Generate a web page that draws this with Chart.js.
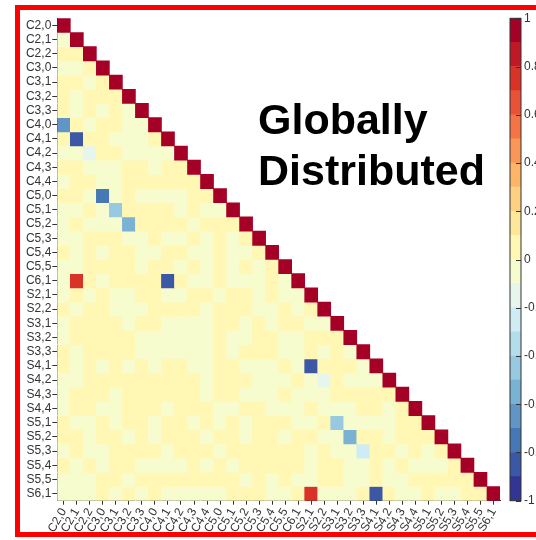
<!DOCTYPE html>
<html lang="en">
<head>
<meta charset="UTF-8" />
<title>Globally Distributed - Correlation Matrix</title>
<style>
  * {margin:0; padding:0; box-sizing:border-box;}
  html, body {width:536px; height:540px; overflow:hidden; background:#fff;}
  body {position:relative; font-family:'Liberation Sans', Arial, sans-serif;}
  .frame {position:absolute; left:15px; top:5px; width:560px; height:532px; border:5px solid #ff0000;}
  #matrixWrap {position:absolute; left:0; top:0; width:536px; height:540px;}
  #barWrap {position:absolute; left:480px; top:0; width:90px; height:540px;}
  .note {
    position:absolute; left:258px; top:94px;
    font: bold 43px 'Liberation Sans', Arial, sans-serif;
    line-height:51px; color:#000;
  }
</style>
</head>
<body>

<div class="frame"></div>
<div id="matrixWrap"><canvas id="matrixChart"></canvas></div>
<div id="barWrap"><canvas id="barChart"></canvas></div>
<div class="note">Globally<br>Distributed</div>

<script src="https://cdn.jsdelivr.net/npm/chart.js"></script>
<script>
  // parameter names (rows and columns share the same list)
  const names = ['C2,0','C2,1','C2,2','C3,0','C3,1','C3,2','C3,3','C4,0','C4,1','C4,2','C4,3','C4,4',
    'C5,0','C5,1','C5,2','C5,3','C5,4','C5,5','C6,1','S2,1','S2,2','S3,1','S3,2','S3,3',
    'S4,1','S4,2','S4,3','S4,4','S5,1','S5,2','S5,3','S5,4','S5,5','S6,1'];

  // lower triangle of the correlation matrix, row r holds columns 0..r
  const corrRows = [
    [1],
    [-0.03, 1],
    [0.05, 0.04, 1],
    [-0.02, -0.03, 0.05, 1],
    [0.04, 0.05, -0.02, 0.03, 1],
    [0.05, -0.03, 0.04, 0.06, 0.03, 1],
    [0.04, -0.02, 0.05, -0.03, 0.04, -0.02, 1],
    [-0.65, 0.05, -0.03, 0.04, 0.05, -0.02, -0.04, 1],
    [0.04, -0.85, 0.05, 0.03, -0.02, -0.03, -0.04, 0.05, 1],
    [-0.03, -0.02, -0.15, 0.04, 0.05, -0.03, -0.02, -0.04, -0.03, 1],
    [0.05, 0.04, -0.03, -0.02, -0.04, 0.05, 0.03, -0.02, 0.04, 0.05, 1],
    [-0.02, 0.04, 0.05, -0.03, -0.02, 0.05, 0.04, 0.03, 0.05, 0.04, 0.06, 1],
    [0.04, 0.05, -0.03, -0.75, -0.02, 0.04, -0.03, -0.02, -0.04, -0.03, 0.05, 0.04, 1],
    [-0.03, -0.02, 0.05, -0.04, -0.45, 0.04, 0.05, 0.03, 0.04, -0.02, 0.05, -0.03, -0.02, 1],
    [-0.02, 0.04, -0.03, -0.02, -0.04, -0.55, 0.05, 0.04, 0.03, 0.05, -0.02, 0.04, 0.05, 0.03, 1],
    [-0.03, -0.02, 0.05, 0.04, 0.03, -0.02, -0.04, 0.05, -0.03, -0.02, 0.04, -0.03, 0.05, -0.02, 0.04, 1],
    [0.05, -0.03, 0.04, -0.02, 0.05, 0.03, -0.04, -0.02, 0.05, 0.04, -0.03, -0.02, 0.04, -0.03, -0.02, 0.05, 1],
    [-0.02, -0.03, 0.05, 0.04, 0.03, 0.05, -0.02, 0.04, 0.05, -0.03, 0.04, -0.02, 0.05, -0.03, 0.04, -0.02, 0.05, 1],
    [-0.03, 0.75, 0.04, -0.02, 0.05, 0.03, 0.04, 0.05, -0.85, 0.04, -0.03, -0.02, 0.05, -0.03, -0.02, -0.04, 0.05, -0.02, 1],
    [-0.02, 0.05, -0.03, 0.04, -0.02, -0.03, 0.05, 0.04, -0.02, -0.03, 0.05, 0.04, -0.02, 0.05, 0.03, -0.03, 0.04, -0.02, -0.03, 1],
    [0.04, -0.03, 0.05, 0.04, -0.02, -0.03, -0.02, 0.05, 0.04, 0.03, 0.05, -0.02, 0.04, 0.05, 0.03, -0.03, -0.02, 0.04, -0.03, 0.05, 1],
    [-0.03, 0.05, 0.04, 0.03, 0.05, -0.02, 0.04, 0.05, -0.03, -0.02, -0.04, -0.03, 0.05, 0.04, -0.02, 0.05, -0.03, 0.04, 0.05, -0.02, -0.03, 1],
    [-0.02, 0.04, 0.05, 0.03, 0.04, 0.05, -0.03, -0.02, -0.04, -0.03, -0.02, -0.03, 0.05, -0.02, -0.03, 0.04, 0.05, -0.02, -0.03, 0.04, 0.05, 0.03, 1],
    [0.05, -0.03, 0.04, 0.05, 0.03, 0.04, -0.02, -0.03, -0.04, -0.02, -0.03, -0.02, 0.05, -0.03, 0.04, 0.05, 0.03, -0.02, -0.03, 0.05, -0.02, 0.04, -0.03, 1],
    [0.04, -0.02, 0.05, -0.03, 0.04, -0.02, 0.05, -0.03, 0.04, 0.05, -0.02, -0.03, 0.04, 0.05, -0.02, -0.03, -0.04, 0.05, -0.02, -0.85, 0.04, 0.05, 0.03, -0.02, 1],
    [-0.03, -0.02, 0.05, 0.04, 0.03, 0.05, 0.04, 0.05, 0.03, 0.04, 0.05, -0.02, 0.04, 0.05, 0.03, -0.03, -0.02, -0.03, 0.04, -0.02, -0.15, 0.05, -0.03, -0.02, -0.03, 1],
    [-0.02, 0.04, 0.05, 0.03, -0.03, 0.05, 0.04, 0.03, 0.05, 0.04, 0.05, -0.02, 0.04, 0.05, -0.03, -0.02, -0.03, 0.05, -0.02, -0.03, -0.02, 0.04, 0.05, 0.03, 0.04, 0.05, 1],
    [-0.03, 0.05, 0.04, -0.02, -0.03, 0.04, 0.05, 0.03, -0.02, 0.05, 0.04, 0.03, -0.02, -0.03, 0.05, 0.04, -0.02, -0.03, -0.02, 0.05, -0.03, -0.02, -0.03, 0.04, 0.05, -0.02, 0.04, 1],
    [0.05, -0.02, -0.03, 0.04, -0.02, 0.05, 0.04, -0.03, 0.05, 0.04, -0.02, 0.05, -0.03, 0.04, -0.02, 0.05, 0.04, 0.03, -0.02, -0.03, 0.04, -0.45, -0.02, -0.03, -0.02, -0.03, 0.05, 0.04, 1],
    [0.04, 0.05, -0.03, 0.04, 0.05, -0.02, 0.04, -0.03, 0.05, 0.04, 0.03, -0.02, 0.05, 0.04, -0.03, 0.05, 0.04, -0.02, 0.05, 0.04, -0.03, -0.02, -0.55, 0.04, 0.05, -0.02, 0.04, 0.05, 0.03, 1],
    [-0.02, 0.05, -0.03, -0.02, 0.04, 0.05, 0.03, 0.04, -0.03, 0.05, 0.04, 0.03, -0.02, 0.05, 0.04, 0.03, 0.05, 0.04, 0.03, -0.02, 0.05, -0.03, -0.02, -0.25, 0.04, 0.05, -0.03, 0.04, -0.02, 0.05, 1],
    [0.05, -0.03, 0.04, -0.02, 0.05, 0.04, -0.03, -0.02, -0.04, -0.03, 0.05, -0.02, 0.04, -0.03, 0.05, 0.04, 0.03, 0.05, 0.04, -0.02, 0.05, 0.04, -0.03, -0.02, 0.04, -0.03, 0.05, -0.02, -0.03, -0.02, 0.04, 1],
    [-0.03, -0.02, -0.03, 0.04, 0.05, -0.02, 0.04, 0.05, 0.03, 0.04, 0.05, 0.03, 0.04, 0.05, -0.02, 0.04, -0.03, 0.05, -0.02, -0.03, 0.04, 0.05, -0.02, -0.03, 0.04, -0.02, -0.03, 0.05, 0.04, 0.03, 0.05, 0.04, 1],
    [-0.02, -0.03, -0.02, 0.05, -0.03, 0.04, -0.02, 0.05, -0.03, -0.02, -0.04, -0.03, -0.02, 0.04, 0.05, 0.03, -0.02, -0.03, 0.04, 0.75, -0.02, -0.03, -0.02, 0.04, -0.85, 0.05, -0.03, -0.02, 0.04, -0.03, -0.02, 0.05, 0.04, 1]
  ];

  // colour bar: bin edges and tick values
  const cbEdges = [-1, -0.9, -0.8, -0.7, -0.6, -0.5, -0.4, -0.3, -0.2, -0.1, 0, 0.1, 0.2, 0.3, 0.4, 0.5, 0.6, 0.7, 0.8, 0.9, 1];
  const cbTicks = [-1, -0.8, -0.6, -0.4, -0.2, 0, 0.2, 0.4, 0.6, 0.8, 1];

  // diverging palette (blue -> yellow -> red), sampled into 20 discrete steps
  const palette = ['#313695','#4575b4','#74add1','#abd9e9','#e0f3f8','#ffffbf','#fee090','#fdae61','#f46d43','#d73027','#a50026'];
  const nBins = cbEdges.length - 1;

  function hexToRgb(h) {
    return [parseInt(h.slice(1,3),16), parseInt(h.slice(3,5),16), parseInt(h.slice(5,7),16)];
  }
  function binColor(v) {
    let k = Math.floor((v + 1) / 0.1 + 1e-9);
    k = Math.max(0, Math.min(nBins - 1, k));
    const t = k / (nBins - 1) * (palette.length - 1);
    const i = Math.min(palette.length - 2, Math.floor(t));
    const f = t - i;
    const a = hexToRgb(palette[i]), b = hexToRgb(palette[i + 1]);
    const c = a.map((x, j) => Math.round(x + (b[j] - x) * f));
    return 'rgb(' + c.join(',') + ')';
  }

  const axisColor = '#333';
  const tickFont = {family: "'Liberation Sans', Arial, sans-serif", size: 12};

  // one floating-bar dataset per matrix row, bars overlap by column
  const rowSets = corrRows.map((row, r) => ({
    data: names.map((_, c) => c < row.length ? [r - 0.5, r + 0.5] : null),
    backgroundColor: names.map((_, c) => c < row.length ? binColor(row[c]) : 'rgba(0,0,0,0)'),
    borderWidth: 0,
    grouped: false,
    barPercentage: 1,
    categoryPercentage: 1
  }));

  new Chart(document.getElementById('matrixChart'), {
    type: 'bar',
    data: {labels: names, datasets: rowSets},
    options: {
      responsive: true,
      maintainAspectRatio: false,
      animation: false,
      layout: {padding: {left: 0, right: 36, top: 18.3, bottom: 0}},
      plugins: {legend: {display: false}, tooltip: {enabled: false}},
      scales: {
        x: {
          type: 'category',
          offset: true,
          afterFit: s => { s.height = 39.3; },
          grid: {offset: false, drawOnChartArea: false, tickLength: 4, color: axisColor},
          border: {display: true, color: axisColor},
          ticks: {autoSkip: false, maxRotation: 60, minRotation: 60, padding: 1, color: axisColor, font: tickFont}
        },
        y: {
          type: 'linear',
          reverse: true,
          min: -0.5,
          max: 33.5,
          afterFit: s => { s.width = 57.3; },
          afterBuildTicks: s => { s.ticks = names.map((_, i) => ({value: i})); },
          grid: {drawOnChartArea: false, tickLength: 5, color: axisColor},
          border: {display: true, color: axisColor},
          ticks: {autoSkip: false, padding: 1, color: axisColor, font: tickFont, callback: v => names[v]}
        }
      }
    }
  });

  // colour bar drawn as stacked floating bars
  const cbSets = cbEdges.slice(0, -1).map((lo, k) => ({
    data: [[lo, cbEdges[k + 1]]],
    backgroundColor: binColor(lo + 0.05),
    borderWidth: 0,
    grouped: false,
    barPercentage: 1,
    categoryPercentage: 1
  }));

  const cbFrame = {
    id: 'cbFrame',
    afterDatasetsDraw(chart) {
      const {ctx, chartArea: a, scales: {y}} = chart;
      ctx.save();
      ctx.strokeStyle = axisColor;
      ctx.lineWidth = 1;
      ctx.strokeRect(a.left, a.top, a.right - a.left, a.bottom - a.top);
      cbTicks.forEach(v => {
        const py = Math.round(y.getPixelForValue(v)) + 0.5;
        ctx.beginPath();
        ctx.moveTo(a.right - 5, py);
        ctx.lineTo(a.right, py);
        ctx.stroke();
      });
      ctx.restore();
    }
  };

  new Chart(document.getElementById('barChart'), {
    type: 'bar',
    data: {labels: [''], datasets: cbSets},
    options: {
      responsive: true,
      maintainAspectRatio: false,
      animation: false,
      layout: {padding: {left: 30, right: 0, top: 18.3, bottom: 39.3}},
      plugins: {legend: {display: false}, tooltip: {enabled: false}},
      scales: {
        x: {display: false},
        y: {
          position: 'right',
          min: -1,
          max: 1,
          afterFit: s => { s.width = 49; },
          afterBuildTicks: s => { s.ticks = cbTicks.map(v => ({value: v})); },
          grid: {drawOnChartArea: false, drawTicks: false},
          border: {display: false},
          ticks: {padding: 3, color: axisColor, font: tickFont,
            callback: v => Math.abs(v) < 1e-9 ? '0' : String(v)}
        }
      }
    },
    plugins: [cbFrame]
  });
</script>
</body>
</html>
